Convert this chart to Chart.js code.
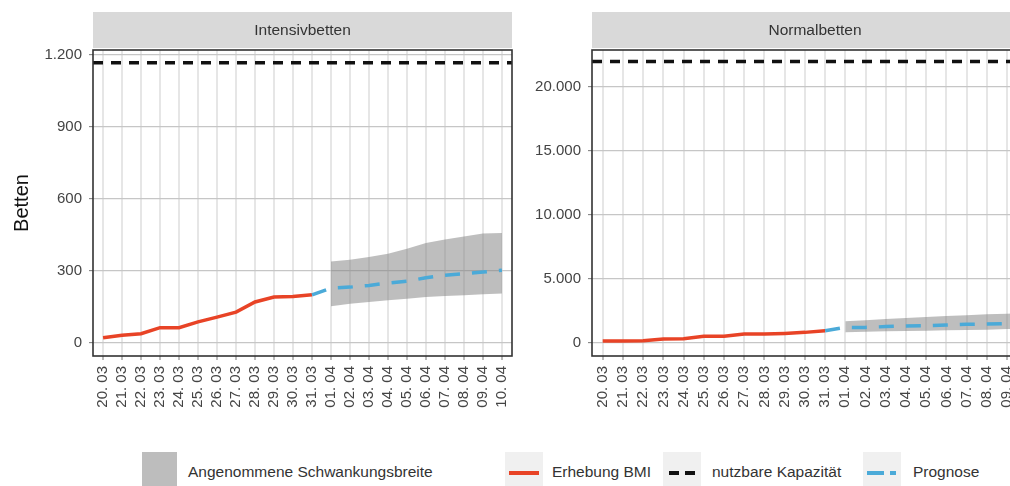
<!DOCTYPE html>
<html>
<head>
<meta charset="utf-8">
<script src="https://cdn.jsdelivr.net/npm/chart.js@4"></script>
<style>
  html, body { margin: 0; padding: 0; background: #fff; }
  body { width: 1010px; height: 486px; overflow: hidden; position: relative; font-family: "Liberation Sans", Arial, sans-serif; }
  canvas { position: absolute; top: 0; }
  #icu { left: 0; }
  #ward { left: 500px; }
  .key { position: absolute; top: 452px; width: 38px; height: 36px; background: #f0f0f0; }
  .lbl { position: absolute; top: 462px; font-size: 15.5px; color: #333; line-height: 20px; white-space: nowrap; }
  .seg { position: absolute; top: 19px; height: 4px; }
</style>
</head>
<body>
<canvas id="icu" width="520" height="440"></canvas>
<canvas id="ward" width="546" height="440"></canvas>

<div class="key" style="left:142px; width:35px; background:#bdbdbd;"></div>
<div class="lbl" style="left:188px;">Angenommene Schwankungsbreite</div>
<div class="key" style="left:505px;"><div class="seg" style="left:4px; width:30px; background:#e84326;"></div></div>
<div class="lbl" style="left:552px;">Erhebung BMI</div>
<div class="key" style="left:663px;"><div class="seg" style="left:6px; width:10px; background:#111;"></div><div class="seg" style="left:22px; width:10px; background:#111;"></div></div>
<div class="lbl" style="left:712px;">nutzbare Kapazität</div>
<div class="key" style="left:863px;"><div class="seg" style="left:4px; width:17px; background:#4baad8;"></div><div class="seg" style="left:27px; width:6px; background:#4baad8;"></div></div>
<div class="lbl" style="left:913px;">Prognose</div>

<script>
// Datum (20.03. bis 10.04.)
const dates = ["20. 03", "21. 03", "22. 03", "23. 03", "24. 03", "25. 03", "26. 03", "27. 03",
  "28. 03", "29. 03", "30. 03", "31. 03", "01. 04", "02. 04", "03. 04", "04. 04", "05. 04",
  "06. 04", "07. 04", "08. 04", "09. 04", "10. 04"];

// Intensivbetten
const icuObserved = [22, 32, 39, 64, 64, 88, 108, 129, 171, 192, 194, 201];          // 20.03 - 31.03
const icuForecast = [201, 229, 233, 240, 250, 258, 272, 282, 289, 296, 303];         // 31.03 - 10.04
const icuLower = [153, 164, 171, 178, 185, 192, 196, 199, 203, 206];                 // 01.04 - 10.04
const icuUpper = [340, 347, 358, 372, 393, 417, 431, 444, 456, 458];
const icuCapacity = 1168;
const icuTicks = [0, 300, 600, 900, 1200];

// Normalbetten
const wardObserved = [156, 156, 180, 310, 340, 520, 520, 700, 700, 750, 830, 960];
const wardForecast = [960, 1220, 1220, 1280, 1330, 1350, 1400, 1460, 1480, 1510, 1560];
const wardLower = [830, 885, 910, 940, 960, 990, 1015, 1040, 1090, 1120];
const wardUpper = [1690, 1770, 1875, 1950, 2030, 2110, 2160, 2240, 2290, 2340];
const wardCapacity = 22000;
const wardTicks = [0, 5000, 10000, 15000, 20000];

const xMin = -0.53, xMax = 21.53;
const RED = "#e84326", BLUE = "#4baad8";
const FONT = "'Liberation Sans', Arial, sans-serif";

function fmt(v) {
  return String(v).replace(/\B(?=(\d{3})+(?!\d))/g, ".");
}

// Facetten-Streifen und Rahmen
const panelPlugin = {
  id: "panel",
  afterDraw(chart) {
    const ctx = chart.ctx, a = chart.chartArea;
    ctx.save();
    ctx.fillStyle = "#d9d9d9";
    ctx.fillRect(a.left, 12, a.right - a.left, 36);
    ctx.fillStyle = "#333";
    ctx.font = "15.5px " + FONT;
    ctx.textAlign = "center";
    ctx.textBaseline = "middle";
    ctx.fillText(chart.options.plugins.panel.title, (a.left + a.right) / 2, 31);
    ctx.strokeStyle = "#333";
    ctx.lineWidth = 1.6;
    ctx.strokeRect(a.left, a.top, a.right - a.left, a.bottom - a.top);
    ctx.restore();
  }
};

function makeChart(id, title, observed, forecast, lower, upper, capacity, ticks, yMin, yMax, yWidth, yTitle) {
  const n = observed.length;
  new Chart(document.getElementById(id), {
    type: "line",
    data: {
      datasets: [
        { data: lower.map((v, i) => ({ x: n + i, y: v })), borderWidth: 0, pointRadius: 0, fill: false, order: 5 },
        { data: upper.map((v, i) => ({ x: n + i, y: v })), borderWidth: 0, pointRadius: 0,
          fill: "-1", backgroundColor: "rgba(125,125,125,0.5)", order: 4 },
        { data: [{ x: xMin, y: capacity }, { x: xMax, y: capacity }], borderColor: "#111",
          borderWidth: 3.5, borderDash: [10, 8], pointRadius: 0, order: 3 },
        { data: observed.map((v, i) => ({ x: i, y: v })), borderColor: RED, borderWidth: 3.5,
          pointRadius: 0, order: 2 },
        { data: forecast.map((v, i) => ({ x: n - 1 + i, y: v })), borderColor: BLUE, borderWidth: 3.5,
          borderDash: [15, 12], pointRadius: 0, order: 1 }
      ]
    },
    options: {
      responsive: false,
      animation: false,
      devicePixelRatio: 1,
      layout: { padding: { top: 50, right: 8, left: 0, bottom: 0 } },
      plugins: { legend: { display: false }, tooltip: { enabled: false }, panel: { title: title } },
      scales: {
        x: {
          type: "linear", min: xMin, max: xMax,
          afterBuildTicks: s => { s.ticks = dates.map((d, i) => ({ value: i })); },
          afterFit: s => { s.height = 84; s.paddingLeft = 0; s.paddingRight = 0; },
          grid: { color: "#e6e6e6", lineWidth: 2, tickLength: 4, tickColor: "#777", tickWidth: 1 },
          border: { display: false },
          ticks: { maxRotation: 90, minRotation: 90, padding: 6, color: "#444", autoSkip: false,
            font: { family: FONT, size: 15 }, callback: v => dates[v] }
        },
        y: {
          min: yMin, max: yMax,
          afterBuildTicks: s => { s.ticks = ticks.map(v => ({ value: v })); },
          afterFit: s => { s.width = yWidth; s.paddingTop = 0; s.paddingBottom = 0; },
          grid: { color: "#c6c6c6", lineWidth: 1.3, tickLength: 4, tickColor: "#777", tickWidth: 1 },
          border: { display: false },
          ticks: { padding: 7, color: "#444", font: { family: FONT, size: 15 }, callback: v => fmt(v) },
          title: { display: !!yTitle, text: yTitle, color: "#111", font: { family: FONT, size: 20 },
            padding: { top: 10, bottom: 0 } }
        }
      }
    },
    plugins: [panelPlugin]
  });
}

makeChart("icu", "Intensivbetten", icuObserved, icuForecast, icuLower, icuUpper, icuCapacity,
  icuTicks, -54, 1221, 93, "Betten");
makeChart("ward", "Normalbetten", wardObserved, wardForecast, wardLower, wardUpper, wardCapacity,
  wardTicks, -1016, 22890, 92, "");
</script>
</body>
</html>
